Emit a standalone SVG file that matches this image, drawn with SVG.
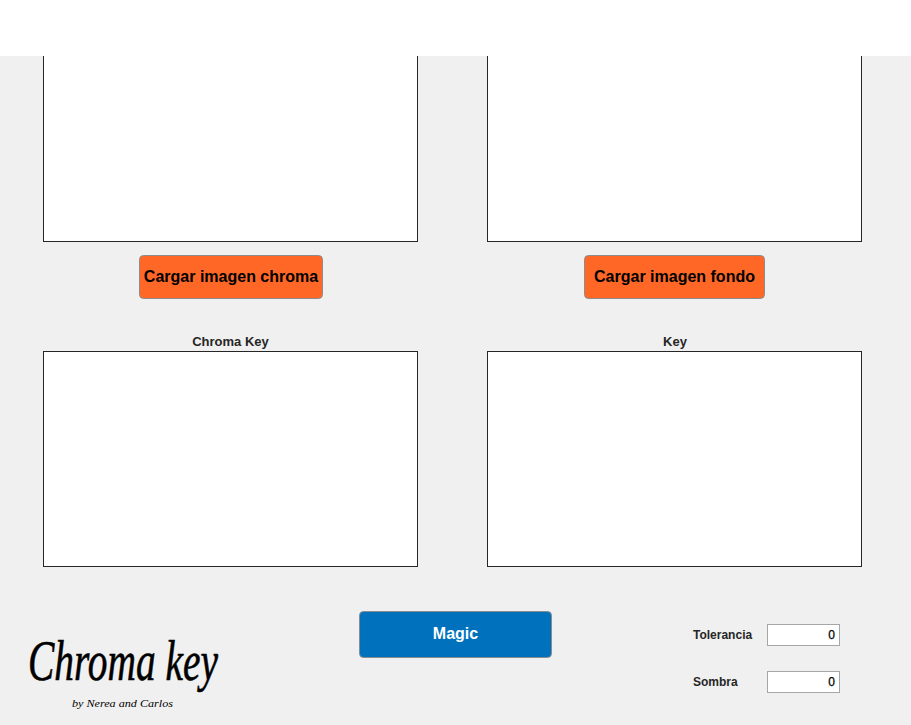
<svg xmlns="http://www.w3.org/2000/svg" width="911" height="725" viewBox="0 0 911 725">
<style>
text{font-family:"Liberation Sans",Arial,sans-serif;fill:#000}
.panel{fill:#fff;stroke:#262626;stroke-width:1}
.btn{stroke:#8c8c8c;stroke-width:1}
.orange{fill:#ff6726}
.btxt{font-size:16px;font-weight:bold;text-anchor:middle}
.title{font-size:13px;font-weight:bold;text-anchor:middle;fill:#262626}
.lbl{font-size:12px;font-weight:bold;fill:#262626}
.edit{fill:#fff;stroke:#a6a6a6;stroke-width:1}
.val{font-size:12px;text-anchor:end;stroke:#000;stroke-width:.25}
.logo{font-family:"Liberation Serif",serif;font-style:italic}
</style>
<rect width="911" height="725" fill="#f0f0f0"/>
<g id="panel-chroma-source"><rect class="panel" x="43.5" y="40.5" width="374" height="201"/></g>
<g id="panel-background-source"><rect class="panel" x="487.5" y="40.5" width="374" height="201"/></g>
<rect id="top-band" width="911" height="56" fill="#fff"/>
<g id="btn-load-chroma"><rect class="btn orange" x="139.5" y="255.5" width="183" height="43" rx="4"/><text class="btxt" x="231" y="282">Cargar imagen chroma</text></g>
<g id="btn-load-background"><rect class="btn orange" x="584.5" y="255.5" width="180" height="43" rx="4"/><text class="btxt" x="674.5" y="282">Cargar imagen fondo</text></g>
<g id="panel-chroma-key"><text class="title" x="230.500" y="346">Chroma Key</text><rect class="panel" x="43.5" y="351.5" width="374" height="215"/></g>
<g id="panel-key"><text class="title" x="675" y="346">Key</text><rect class="panel" x="487.5" y="351.5" width="374" height="215"/></g>
<g id="btn-magic"><rect class="btn" fill="#0072bd" x="359.5" y="611.5" width="192" height="46" rx="4"/><text class="btxt" x="455.5" y="639" style="fill:#fff">Magic</text></g>
<g id="field-tolerancia"><text class="lbl" x="693" y="639">Tolerancia</text><rect class="edit" x="767.5" y="624.5" width="72" height="21"/><text class="val" x="835" y="639">0</text></g>
<g id="field-sombra"><text class="lbl" x="693" y="686">Sombra</text><rect class="edit" x="767.5" y="671.5" width="72" height="21"/><text class="val" x="835" y="686">0</text></g>
<g id="logo"><text class="logo" x="28" y="680" font-size="56" textLength="190" lengthAdjust="spacingAndGlyphs" stroke="#000" stroke-width=".6">Chroma key</text><text class="logo" x="72" y="707" font-size="11" textLength="101" lengthAdjust="spacingAndGlyphs">by Nerea and Carlos</text></g>
</svg>
